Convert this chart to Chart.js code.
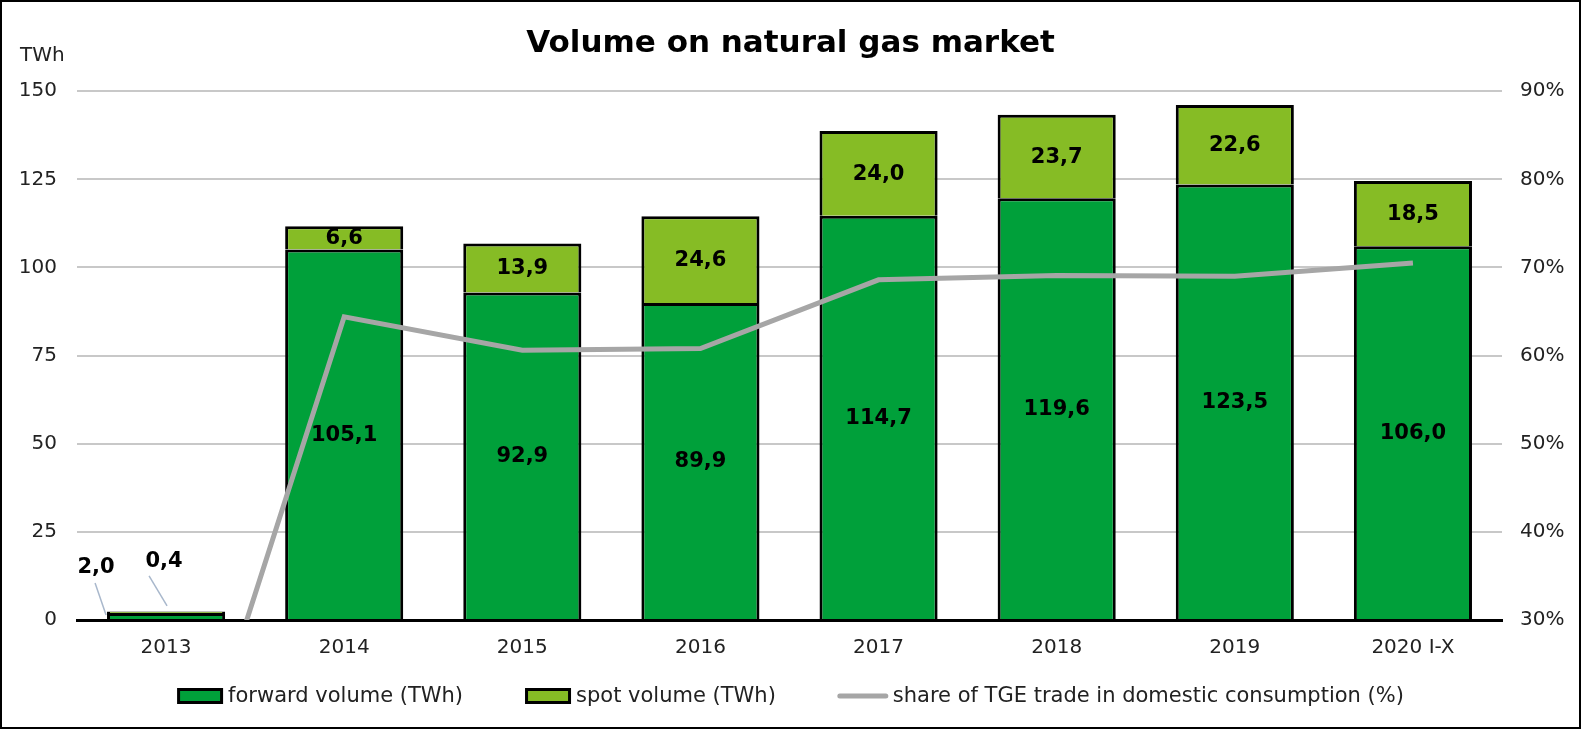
<!DOCTYPE html>
<html>
<head>
<meta charset="utf-8">
<script src="https://cdn.jsdelivr.net/npm/chart.js@4"></script>
<style>
  body { margin: 0; background: #fff; }
  canvas { display: block; }
</style>
</head>
<body>
<canvas id="gasChart" width="1581" height="729"></canvas>
<script>
const years = ['2013', '2014', '2015', '2016', '2017', '2018', '2019', '2020 I-X'];
const forwardVolume = [2.0, 105.1, 92.9, 89.9, 114.7, 119.6, 123.5, 106.0];
const spotVolume = [0.4, 6.6, 13.9, 24.6, 24.0, 23.7, 22.6, 18.5];
const tgeShare = [1.5, 64.4, 60.6, 60.8, 68.6, 69.1, 69.0, 70.5];

const seriesNames = [
  'forward volume (TWh)',
  'spot volume (TWh)',
  'share of TGE trade in domestic consumption (%)'
];

const FONT = "'DejaVu Sans', Verdana, sans-serif";
Chart.defaults.font.family = FONT;
Chart.defaults.color = '#222';

function fmt(v){
  return v.toFixed(1).replace('.', ',');
}

// bar value labels, the 2013 ones sit above the bar with leader lines
const barLabels = {
  id: 'barLabels',
  afterDatasetsDraw(chart){
    const ctx = chart.ctx;
    ctx.save();
    ctx.font = 'bold 21px ' + FONT;
    ctx.fillStyle = '#000';
    ctx.textAlign = 'center';
    ctx.textBaseline = 'middle';
    [0, 1].forEach(di => {
      const meta = chart.getDatasetMeta(di);
      meta.data.forEach((el, i) => {
        const v = chart.data.datasets[di].data[i];
        if (i === 0) {
          const lx = di === 0 ? el.x - 70 : el.x - 2;
          const ly = el.base - 51;
          ctx.fillText(fmt(v), lx, ly);
          ctx.strokeStyle = '#a9b8cc';
          ctx.lineWidth = 1.5;
          ctx.beginPath();
          if (di === 0) {
            ctx.moveTo(lx - 1, el.base - 36);
            ctx.lineTo(lx + 10, el.base - 4);
          } else {
            ctx.moveTo(lx - 15, el.base - 37);
            ctx.lineTo(lx + 3, el.base - 7);
          }
          ctx.stroke();
        } else {
          ctx.fillText(fmt(v), el.x, (el.y + el.base) / 2 + 1);
        }
      });
    });
    ctx.restore();
  }
};

// legend row, unit label and frame
const extras = {
  id: 'extras',
  afterDraw(chart){
    const ctx = chart.ctx;
    ctx.save();
    ctx.font = '20px ' + FONT;
    ctx.fillStyle = '#222';
    ctx.textAlign = 'left';
    ctx.textBaseline = 'middle';
    ctx.fillText('TWh', 20, 56);

    ctx.font = '21px ' + FONT;
    const sets = chart.data.datasets;
    const boxW = [46, 46, 50];
    const gap = 62;
    const widths = sets.map((ds, i) => boxW[i] + 5 + ctx.measureText(ds.label).width);
    const total = widths.reduce((a, b) => a + b, 0) + gap * (sets.length - 1);
    let x = (chart.width - total) / 2;
    const y = 696;
    sets.forEach((ds, i) => {
      if (ds.type === 'line') {
        ctx.strokeStyle = ds.borderColor;
        ctx.lineWidth = 5;
        ctx.lineCap = 'round';
        ctx.beginPath();
        ctx.moveTo(x + 2, y);
        ctx.lineTo(x + boxW[i] - 2, y);
        ctx.stroke();
      } else {
        ctx.fillStyle = ds.backgroundColor;
        ctx.strokeStyle = ds.borderColor;
        ctx.lineWidth = 3;
        ctx.fillRect(x + 1.5, y - 6.5, boxW[i] - 3, 13);
        ctx.strokeRect(x + 1.5, y - 6.5, boxW[i] - 3, 13);
      }
      ctx.fillStyle = '#222';
      ctx.fillText(ds.label, x + boxW[i] + 5, y + 1);
      x += widths[i] + gap;
    });

    ctx.strokeStyle = '#000';
    ctx.lineWidth = 2;
    ctx.strokeRect(1, 1, chart.width - 2, chart.height - 2);
    ctx.restore();
  }
};

new Chart(
  document.getElementById('gasChart'),
  {
    type: 'bar',
    data: {
      labels: years,
      datasets: [
        {
          label: seriesNames[0],
          data: forwardVolume,
          backgroundColor: '#00a03a',
          borderColor: '#000',
          borderWidth: 3,
          stack: 'vol',
          order: 1,
          barPercentage: 0.663,
          categoryPercentage: 1
        },
        {
          label: seriesNames[1],
          data: spotVolume,
          backgroundColor: '#86bc25',
          borderColor: '#000',
          borderWidth: 3,
          stack: 'vol',
          order: 1,
          barPercentage: 0.663,
          categoryPercentage: 1
        },
        {
          type: 'line',
          label: seriesNames[2],
          data: tgeShare,
          yAxisID: 'y1',
          borderColor: '#a6a6a6',
          backgroundColor: '#a6a6a6',
          borderWidth: 5,
          pointRadius: 0,
          tension: 0,
          order: 0,
          clip: {left: 5, right: 5, top: 5, bottom: 0}
        }
      ]
    },
    options: {
      responsive: false,
      animation: false,
      layout: { padding: { left: 0, right: 0, top: 0, bottom: 49 } },
      scales: {
        x: {
          stacked: true,
          grid: { display: false, drawTicks: false },
          border: { color: '#000', width: 3 },
          ticks: { padding: 16, font: { size: 20 }, color: '#222' },
          afterFit(s){ s.height = 60; }
        },
        y: {
          stacked: true,
          min: 0,
          max: 150,
          ticks: { stepSize: 25, padding: 20, font: { size: 20 }, color: '#222' },
          grid: { color: '#c8c8c8', lineWidth: 2, drawTicks: false },
          border: { display: false },
          afterFit(s){ s.width = 77; }
        },
        y1: {
          position: 'right',
          min: 30,
          max: 90,
          ticks: {
            stepSize: 10,
            padding: 18,
            font: { size: 20 },
            color: '#222',
            callback: v => v + '%'
          },
          grid: { drawOnChartArea: false, drawTicks: false },
          border: { display: false },
          afterFit(s){ s.width = 79; }
        }
      },
      plugins: {
        title: {
          display: true,
          text: 'Volume on natural gas market',
          color: '#000',
          font: { size: 31, weight: 'bold' },
          padding: { top: 25, bottom: 29 }
        },
        legend: { display: false },
        tooltip: { enabled: false }
      }
    },
    plugins: [barLabels, extras]
  }
);
</script>
</body>
</html>
